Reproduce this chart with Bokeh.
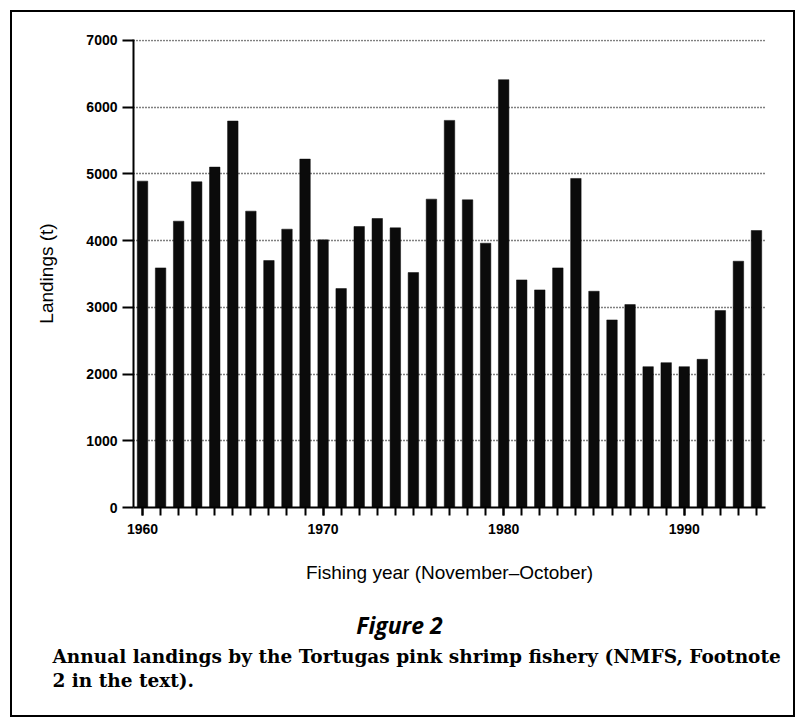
from bokeh.plotting import figure
from bokeh.layouts import column
from bokeh.models import FixedTicker, Range1d, Label, ColumnDataSource
from bokeh.embed import file_html
from bokeh.resources import INLINE

years = list(range(1960, 1995))
landings = [4890, 3590, 4290, 4880, 5100, 5790, 4440, 3700, 4170, 5220,
            4010, 3280, 4210, 4330, 4190, 3520, 4620, 5800, 4610, 3960,
            6410, 3410, 3260, 3590, 4930, 3240, 2810, 3040, 2110, 2170,
            2110, 2220, 2950, 3690, 4150]
y_ticks = [0, 1000, 2000, 3000, 4000, 5000, 6000, 7000]
x_major_ticks = [1960, 1970, 1980, 1990]

x_title = "Fishing year (November\u2013October)"
y_title = "Landings (t)"
fig_title = "Figure 2"
caption_1 = "Annual landings by the Tortugas pink shrimp fishery (NMFS, Footnote"
caption_2 = "2 in the text)."

W = 781
H_CHART = 578
H_CAP = 125

src = ColumnDataSource(dict(year=years, landings=landings))

p = figure(width=W, height=H_CHART, output_backend="svg", toolbar_location=None,
           x_range=Range1d(1959.5, 1994.5), y_range=Range1d(0, 7012),
           min_border_left=121, min_border_right=28,
           min_border_top=27, min_border_bottom=83)
p.outline_line_color = None

p.vbar(x="year", top="landings", width=0.58, source=src,
       fill_color="#0b0b0b", line_color="#0b0b0b", line_width=0.5)

ax = p.xaxis[0]
ax.ticker = FixedTicker(ticks=x_major_ticks, minor_ticks=years)
ax.axis_line_width = 2
ax.major_tick_line_width = 2
ax.minor_tick_line_width = 2
ax.major_tick_in = 0
ax.major_tick_out = 8
ax.minor_tick_in = 0
ax.minor_tick_out = 8
ax.major_label_standoff = 8
ax.major_label_text_font = "Liberation Sans"
ax.major_label_text_font_style = "bold"
ax.major_label_text_font_size = "14px"
ax.major_label_text_color = "black"
ax.axis_label = x_title
ax.axis_label_text_font = "Liberation Sans"
ax.axis_label_text_font_style = "normal"
ax.axis_label_text_font_size = "19px"
ax.axis_label_standoff = 25
ax.axis_label_text_color = "black"

ay = p.yaxis[0]
ay.ticker = FixedTicker(ticks=y_ticks)
ay.axis_line_width = 2
ay.major_tick_line_width = 2
ay.major_tick_in = 0
ay.major_tick_out = 11
ay.minor_tick_line_color = None
ay.major_label_standoff = 5
ay.major_label_text_font = "Liberation Sans"
ay.major_label_text_font_style = "bold"
ay.major_label_text_font_size = "14px"
ay.major_label_text_color = "black"
ay.axis_label = y_title
ay.axis_label_text_font = "Liberation Sans"
ay.axis_label_text_font_style = "normal"
ay.axis_label_text_font_size = "19px"
ay.axis_label_standoff = 26
ay.axis_label_text_color = "black"

p.xgrid.grid_line_color = None
p.ygrid.ticker = FixedTicker(ticks=y_ticks[1:])
p.ygrid.grid_line_color = "black"
p.ygrid.grid_line_dash = "1 2"
p.ygrid.grid_line_width = 1.3

# caption panel: a plain canvas whose frame spans the whole figure (1 unit = 1 px)
q = figure(width=W, height=H_CAP, output_backend="svg", toolbar_location=None,
           x_range=Range1d(0, W), y_range=Range1d(0, H_CAP),
           x_axis_location=None, y_axis_location=None,
           min_border_left=0, min_border_right=0, min_border_top=0, min_border_bottom=0)
q.outline_line_color = None
q.xgrid.grid_line_color = None
q.ygrid.grid_line_color = None
for fig in (p, q):
    if "frame_align" in fig.properties():
        fig.frame_align = False

q.add_layout(Label(x=387, y=91, text=fig_title, text_align="center", text_baseline="middle",
                   text_font="Open Sans", text_font_style="bold italic",
                   text_font_size="23px", text_color="black"))
q.add_layout(Label(x=40, y=59, text=caption_1, text_align="left", text_baseline="middle",
                   text_font="DejaVu Serif", text_font_style="bold",
                   text_font_size="18.5px", text_color="black"))
q.add_layout(Label(x=40, y=35, text=caption_2, text_align="left", text_baseline="middle",
                   text_font="DejaVu Serif", text_font_style="bold",
                   text_font_size="18.5px", text_color="black"))

layout = column(p, q, spacing=0, margin=(10, 0, 0, 10),
                styles={"border": "2px solid black"})

open("out.html", "w").write(file_html(layout, INLINE))
